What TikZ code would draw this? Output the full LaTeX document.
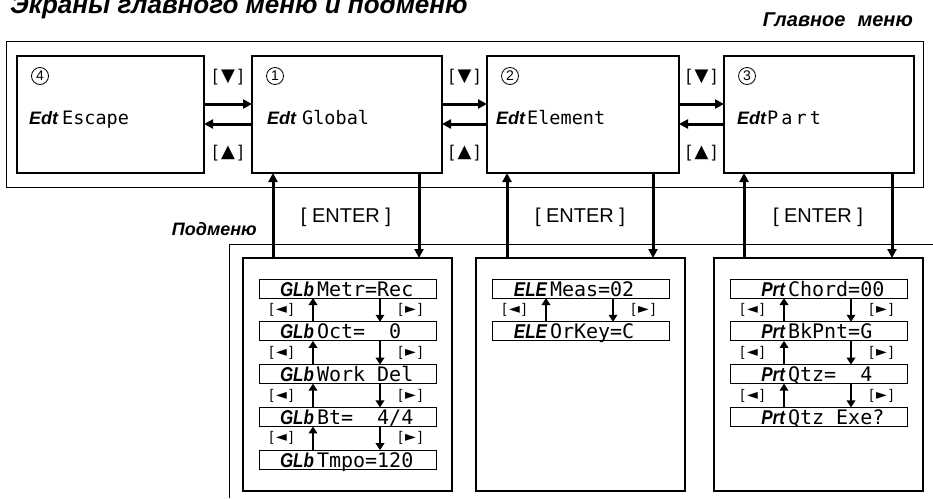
\documentclass[tikz,border=0pt]{standalone}
\usepackage{fontspec}
\setmainfont{Liberation Sans}
\newfontfamily\dispfont{DejaVu Sans Mono}
\newfontfamily\symfont{DejaVu Sans}
\newfontfamily\prefont[FakeStretch=0.85]{Liberation Sans}
\usetikzlibrary{arrows.meta}
\newcommand\fsz[1]{\fontsize{#1}{#1}\selectfont}
\newcommand\pfx[1]{{\prefont\bfseries\itshape #1}}
\newcommand\mpfx[1]{{\bfseries\itshape #1}}
\newcommand\mlab[1]{{\fsz{17}[\hspace{3.5pt}{\symfont\fsz{18}#1}\hspace{3.5pt}]}}
\newcommand\slab[1]{{\fsz{14}[\hspace{2.5pt}{\symfont\fsz{14}#1}\hspace{2.5pt}]}}
\newcommand\lcdrow[4]{\node[rowbox] (#1) at (#2) {\hbox to 177pt{\hspace{20pt}\makebox[35pt][r]{\fsz{20}\pfx{#3}}\hspace{3pt}{\dispfont\fsz{20}#4}\hfil}};}
\newcommand\rowlinks[2]{%
  \foreach \i [evaluate=\i as \j using int(\i+1)] in {1,...,#2} {
    \draw[sarrow] ([xshift=-34.5pt]#1\j.north) -- ([xshift=-34.5pt]#1\i.south);
    \draw[sarrow] ([xshift=32.5pt]#1\i.south) -- ([xshift=32.5pt]#1\j.north);
    \node[lbl] at ([xshift=-66pt,yshift=-21.4pt]#1\i.center) {\slab{◄}};
    \node[lbl] at ([xshift=63pt,yshift=-21.4pt]#1\i.center) {\slab{►}};
  }}
\begin{document}
\begin{tikzpicture}[x=1pt,y=-1pt,
  mainbox/.style={draw,line width=2.5pt,minimum height=117pt,inner sep=0pt,outer sep=0pt},
  subbox/.style={draw,line width=1.1pt,minimum width=209pt,minimum height=233pt,inner sep=0pt,outer sep=0pt},
  rowbox/.style={draw,line width=0.9pt,minimum width=177pt,minimum height=19pt,inner sep=0pt,outer sep=0pt,text height=17pt,text depth=2pt},
  marrow/.style={line width=3pt,-{Triangle[length=9pt,width=9pt]}},
  sarrow/.style={line width=2.8pt,-{Triangle[length=7pt,width=8.5pt]}},
  numc/.style={draw,circle,line width=0.8pt,minimum size=17pt,inner sep=0pt,font=\fsz{14}},
  lbl/.style={inner sep=0pt},
  ttl/.style={inner sep=0pt,font=\bfseries\itshape}]
\useasboundingbox (0,0) rectangle (933,498);

% titles
\node[ttl,anchor=base west,font=\bfseries\itshape\fsz{26}] (title) at (10,13) {Экраны главного меню и подменю};
\node[ttl,anchor=base east,font=\bfseries\itshape\fsz{20}] (mainlbl) at (913,26) {Главное\hspace{0.6em}меню};
\node[ttl,anchor=east,font=\bfseries\itshape\fsz{18}] (sublbl) at (257,229) {Подменю};

% frames
\draw[line width=0.9pt] (6,41) rectangle (923,187);
\draw[line width=0.9pt] (229,498) -- (229,244) -- (933,244);

% main boxes
\node[mainbox,minimum width=187pt] (b4) at (110.5,114.5) {};
\node[mainbox,minimum width=190pt] (b1) at (347,114.5) {};
\node[mainbox,minimum width=192pt] (b2) at (583,114.5) {};
\node[mainbox,minimum width=190pt] (b3) at (819,114.5) {};

\foreach \b/\n in {b4/4,b1/1,b2/2,b3/3}{
  \node[numc] (n\b) at ([xshift=23pt,yshift=38.5pt]\b.west) {\n};
}
\node[lbl,anchor=base west] (t4a) at ([xshift=12pt,yshift=-9.5pt]b4.west) {\fsz{18}\mpfx{Edt}};
\node[lbl,anchor=base west] (t4b) at ([xshift=45pt,yshift=-9.5pt]b4.west) {\dispfont\fsz{18.5}Escape};
\node[lbl,anchor=base west] (t1a) at ([xshift=15pt,yshift=-9.5pt]b1.west) {\fsz{18}\mpfx{Edt}};
\node[lbl,anchor=base west] (t1b) at ([xshift=50pt,yshift=-9.5pt]b1.west) {\dispfont\fsz{18.5}Global};
\node[lbl,anchor=base west] (t2a) at ([xshift=9pt,yshift=-9.5pt]b2.west) {\fsz{18}\mpfx{Edt}};
\node[lbl,anchor=base west] (t2b) at ([xshift=40pt,yshift=-9.5pt]b2.west) {\dispfont\fsz{18.5}Element};
\node[lbl,anchor=base west] (t3a) at ([xshift=13pt,yshift=-9.5pt]b3.west) {\fsz{18}\mpfx{Edt}};
\node[lbl,anchor=base west] (t3b) at ([xshift=43pt,yshift=-9.5pt]b3.west) {\dispfont\fsz{18.5}P\,a\,r\,t};

% horizontal arrows
\foreach \l/\r in {b4/b1,b1/b2,b2/b3}{
  \draw[marrow] ([yshift=10.5pt]\l.east) -- ([yshift=10.5pt]\r.west);
  \draw[marrow] ([yshift=-9.5pt]\r.west) -- ([yshift=-9.5pt]\l.east);
}
\node[lbl] (d41) at (228,77) {\mlab{▼}};
\node[lbl] (u41) at (228,153) {\mlab{▲}};
\node[lbl] (d12) at (464.5,77) {\mlab{▼}};
\node[lbl] (u12) at (464.5,153) {\mlab{▲}};
\node[lbl] (d23) at (701.5,77) {\mlab{▼}};
\node[lbl] (u23) at (701.5,153) {\mlab{▲}};

% submenu boxes
\node[subbox] (s1) at (347.5,374.5) {};
\node[subbox] (s2) at (580.5,374.5) {};
\node[subbox] (s3) at (818.5,374.5) {};

% vertical arrows
\draw[marrow] ([xshift=-74pt]b1.south |- s1.north) -- ([xshift=-74pt]b1.south);
\draw[marrow] ([xshift=72pt]b1.south) -- ([xshift=72pt]b1.south |- s1.north);
\draw[marrow] ([xshift=-76pt]b2.south |- s2.north) -- ([xshift=-76pt]b2.south);
\draw[marrow] ([xshift=70pt]b2.south) -- ([xshift=70pt]b2.south |- s2.north);
\draw[marrow] ([xshift=-75pt]b3.south |- s3.north) -- ([xshift=-75pt]b3.south);
\draw[marrow] ([xshift=73pt]b3.south) -- ([xshift=73pt]b3.south |- s3.north);
\node[lbl,font=\fsz{20}] (ent1) at (346,217) {[ ENTER ]};
\node[lbl,font=\fsz{20}] (ent2) at (580,217) {[ ENTER ]};
\node[lbl,font=\fsz{20}] (ent3) at (818,217) {[ ENTER ]};

% Global rows
\lcdrow{g1}{347.5,288.5}{GLb}{Metr=Rec}
\lcdrow{g2}{347.5,331.3}{GLb}{Oct=~~0}
\lcdrow{g3}{347.5,374.1}{GLb}{Work~Del}
\lcdrow{g4}{347.5,416.9}{GLb}{Bt=~~4/4}
\lcdrow{g5}{347.5,459.7}{GLb}{Tmpo=120}
\rowlinks{g}{4}

% Element rows
\lcdrow{e1}{580.5,288.5}{ELE}{Meas=02}
\lcdrow{e2}{580.5,331.3}{ELE}{OrKey=C}
\rowlinks{e}{1}

% Part rows
\lcdrow{p1}{818.5,288.5}{Prt}{Chord=00}
\lcdrow{p2}{818.5,331.3}{Prt}{BkPnt=G}
\lcdrow{p3}{818.5,374.1}{Prt}{Qtz=~~4}
\lcdrow{p4}{818.5,416.9}{Prt}{Qtz~Exe?}
\rowlinks{p}{3}
\end{tikzpicture}
\end{document}
